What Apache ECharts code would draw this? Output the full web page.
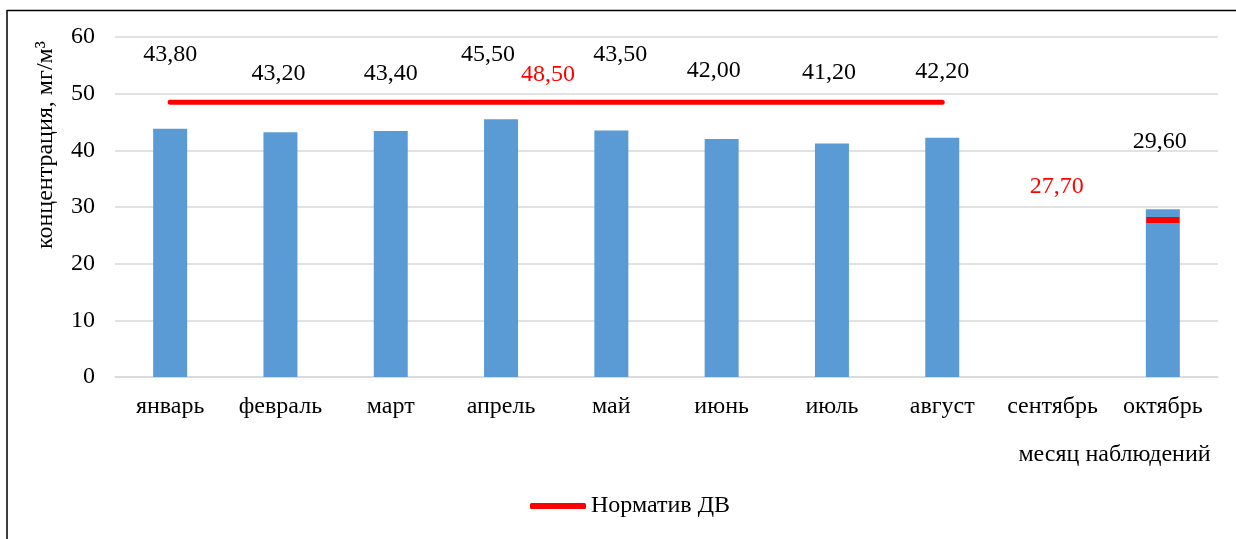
<!DOCTYPE html>
<html>
<head>
<meta charset="utf-8">
<script src="https://cdn.jsdelivr.net/npm/echarts@6/dist/echarts.min.js"></script>
<style>
  html, body { margin: 0; padding: 0; background: #fff; }
  #chart { width: 1236px; height: 539px; }
</style>
</head>
<body>
<div id="chart"></div>
<script>
// Monthly concentration, mg/m3
const months = ['январь', 'февраль', 'март', 'апрель', 'май', 'июнь', 'июль', 'август', 'сентябрь', 'октябрь'];
const concentration = [43.8, 43.2, 43.4, 45.5, 43.5, 42.0, 41.2, 42.2, null, 29.6];
// Limit value (Норматив ДВ) per month
const limitValues = [48.5, 48.5, 48.5, 48.5, 48.5, 48.5, 48.5, 48.5, null, 27.7];
const yTicks = { min: 0, max: 60, step: 10 };

// Hand-placed label nudges [dx, dy] for the bar value labels
const barLabelNudge = [[0, -62], [-2, -46], [0, -45], [-13, -52], [9, -64], [-8, -56], [-3, -59], [0, -54], [0, 0], [-3, -56]];

const FONT = "'Liberation Serif', 'Times New Roman', serif";
const FS = 24;
const fmt = v => v.toFixed(2).replace('.', ',');

const barData = concentration.map((v, i) => ({
  value: v,
  label: { offset: barLabelNudge[i] }
}));

const lineData = limitValues.map((v, i) => {
  const item = { value: v };
  if (i === 3) {
    item.label = { show: true, position: 'inside', offset: [47, -27] };
  }
  if (i === 9) {
    item.symbol = 'rect';
    item.symbolSize = [33, 6];
    item.label = { show: true, position: 'inside', offset: [-106, -33] };
  }
  return item;
});

const chart = echarts.init(document.getElementById('chart'), null, { renderer: 'canvas' });

chart.setOption({
  animation: false,
  backgroundColor: '#ffffff',
  textStyle: { fontFamily: FONT, color: '#000' },
  graphic: [{
    type: 'rect',
    shape: { x: 7, y: 10.5, width: 1400, height: 700 },
    style: { fill: 'none', stroke: '#000', lineWidth: 1.5 },
    silent: true,
    z: 100
  }],
  grid: { left: 115, right: 18, top: 37, bottom: 162, containLabel: false },
  legend: {
    left: 525,
    top: 489,
    icon: 'roundRect',
    itemWidth: 56,
    itemHeight: 6,
    itemGap: 20,
    data: ['Норматив ДВ'],
    textStyle: { fontFamily: FONT, fontSize: FS, color: '#000' }
  },
  xAxis: {
    type: 'category',
    data: months,
    axisTick: { show: false },
    axisLine: { lineStyle: { color: '#d9d9d9', width: 1.5 } },
    axisLabel: { margin: 18, fontFamily: FONT, fontSize: FS, color: '#000', interval: 0 },
    name: 'месяц наблюдений',
    nameLocation: 'middle',
    nameGap: 66,
    nameTextStyle: {
      fontFamily: FONT, fontSize: FS, color: '#000',
      padding: [0, 0, 0, 896]
    }
  },
  yAxis: {
    type: 'value',
    min: yTicks.min,
    max: yTicks.max,
    interval: yTicks.step,
    axisLine: { show: false },
    axisTick: { show: false },
    splitLine: { lineStyle: { color: '#d9d9d9', width: 1.5 } },
    axisLabel: { margin: 20, fontFamily: FONT, fontSize: FS, color: '#000' },
    name: 'концентрация, мг/м³',
    nameLocation: 'middle',
    nameGap: 57,
    nameTextStyle: {
      fontFamily: FONT, fontSize: FS, color: '#000',
      padding: [0, 0, 0, 124]
    }
  },
  series: [
    {
      name: 'Концентрация',
      type: 'bar',
      data: barData,
      barWidth: 34,
      itemStyle: { color: '#5b9bd5' },
      label: {
        show: true,
        position: 'top',
        distance: 0,
        fontFamily: FONT,
        fontSize: FS,
        color: '#000',
        formatter: p => (p.value == null ? '' : fmt(p.value))
      },
      z: 2
    },
    {
      name: 'Норматив ДВ',
      type: 'line',
      data: lineData,
      symbol: 'circle',
      symbolSize: 0,
      showSymbol: true,
      showAllSymbol: true,
      connectNulls: false,
      itemStyle: { color: '#ff0000' },
      lineStyle: { color: '#ff0000', width: 5, cap: 'round' },
      label: {
        show: false,
        fontFamily: FONT,
        fontSize: FS,
        color: '#ff0000',
        formatter: p => fmt(p.value)
      },
      z: 3
    }
  ]
});
</script>
</body>
</html>
